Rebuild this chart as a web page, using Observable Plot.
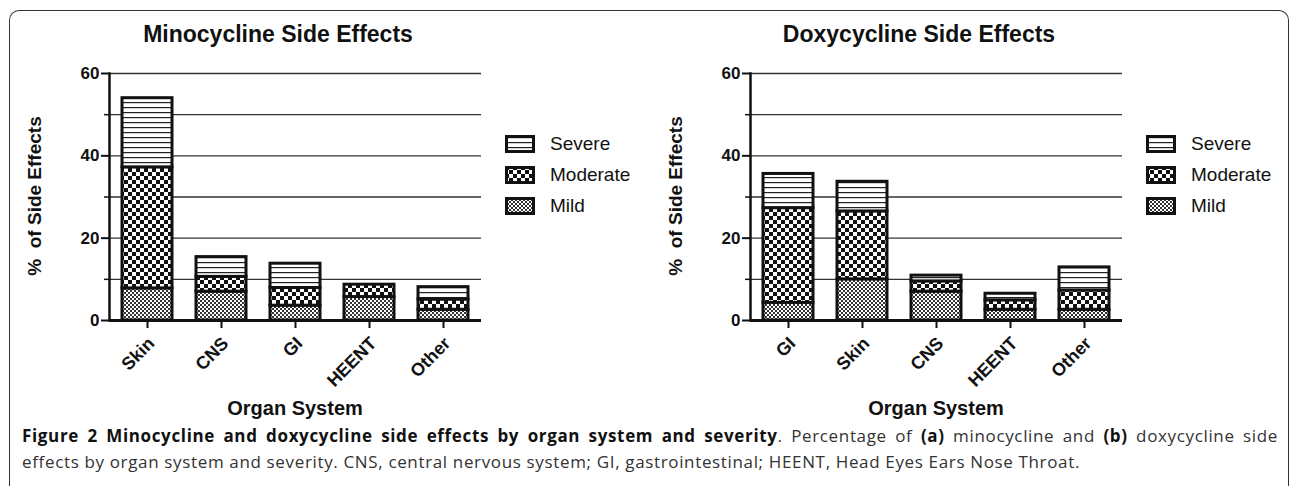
<!DOCTYPE html>
<html>
<head>
<meta charset="utf-8">
<script src="https://cdn.jsdelivr.net/npm/d3@7"></script>
<script src="https://cdn.jsdelivr.net/npm/@observablehq/plot@0.6"></script>
<style>
  html, body { margin: 0; padding: 0; background: #fff; }
  body { width: 1292px; height: 486px; position: relative; overflow: hidden; font-family: "Liberation Sans", Arial, sans-serif; color: #111; }
  .box { position: absolute; left: 9px; top: 10px; width: 1280px; height: 600px; border: 1.5px solid #333; border-bottom: none; border-radius: 10px 10px 0 0; box-sizing: border-box; }
  .panel { position: absolute; top: 0; width: 642px; height: 430px; }
  .panel svg.plot { position: absolute; left: 0; top: 0; }
  .title { position: absolute; top: 21px; font-weight: bold; font-size: 23px; white-space: nowrap; transform: translateX(-50%); }
  .ylab { position: absolute; font-weight: bold; font-size: 19px; white-space: pre; transform: translate(-50%, -50%) rotate(-90deg); }
  .xlab { position: absolute; top: 397px; font-weight: bold; font-size: 20px; white-space: nowrap; transform: translateX(-50%); }
  .legend { position: absolute; left: 505px; top: 128px; }
  .legend .row { display: flex; align-items: center; height: 31px; font-size: 19px; }
  .legend svg { margin-right: 15px; }
  .caption { position: absolute; left: 22px; top: 423px; width: 1256px; font-family: "Open Sans", "DejaVu Sans", sans-serif; font-size: 17px; line-height: 26px; color: #333; }
  .caption b { color: #111; }
  .caption .l1 { text-align: justify; text-align-last: justify; white-space: nowrap; }
  .caption .l2 { white-space: nowrap; display: inline-block; }
</style>
</head>
<body>
<svg width="0" height="0" style="position:absolute">
  <defs>
    <pattern id="pSev" width="6" height="5" patternUnits="userSpaceOnUse">
      <rect width="6" height="5" fill="#fff"/>
      <rect y="2" width="6" height="1.2" fill="#222"/>
    </pattern>
    <pattern id="pMod" width="8" height="8" patternUnits="userSpaceOnUse">
      <rect width="8" height="8" fill="#fff"/>
      <rect x="0" y="0" width="4" height="4" fill="#111"/>
      <rect x="4" y="4" width="4" height="4" fill="#111"/>
    </pattern>
    <pattern id="pMild" width="4" height="4" patternUnits="userSpaceOnUse">
      <rect width="4" height="4" fill="#fff"/>
      <rect x="0" y="0" width="2" height="2" fill="#333"/>
      <rect x="2" y="2" width="2" height="2" fill="#333"/>
    </pattern>
  </defs>
</svg>
<div class="box"></div>
<div id="p1" class="panel" style="left:0px"></div>
<div id="p2" class="panel" style="left:641px"></div>
<div class="caption" id="cap">
  <div class="l1"><b>Figure 2 Minocycline and doxycycline side effects by organ system and severity</b>. Percentage of <b>(a)</b> minocycline and <b>(b)</b> doxycycline side</div>
  <div><span class="l2" id="l2">effects by organ system and severity. CNS, central nervous system; GI, gastrointestinal; HEENT, Head Eyes Ears Nose Throat.</span></div>
</div>
<script>
// ---- data ----
const severities = ["Mild", "Moderate", "Severe"];
const legendOrder = ["Severe", "Moderate", "Mild"];
const patternFor = {Mild: "url(#pMild)", Moderate: "url(#pMod)", Severe: "url(#pSev)"};

const minoTitle = "Minocycline Side Effects";
const minoCats = ["Skin", "CNS", "GI", "HEENT", "Other"];
const minoMild = [7.8, 7.0, 3.6, 5.7, 2.6];
const minoModerate = [29.4, 3.6, 4.3, 3.0, 2.5];
const minoSevere = [16.8, 4.8, 5.9, 0, 3.0];

const doxyTitle = "Doxycycline Side Effects";
const doxyCats = ["GI", "Skin", "CNS", "HEENT", "Other"];
const doxyMild = [4.3, 10.0, 7.0, 2.6, 2.6];
const doxyModerate = [23.0, 16.5, 2.5, 2.3, 4.7];
const doxySevere = [8.3, 7.2, 1.4, 1.6, 5.6];

const yTicksMajor = [0, 20, 40, 60];
const yTicksMinor = [10, 30, 50];
const yGrid = [10, 20, 30, 40, 50, 60];
const yLabel = "%  of Side Effects";
const xLabel = "Organ System";

function buildRows(cats, mild, mod, sev) {
  const rows = [];
  cats.forEach((c, i) => {
    rows.push({cat: c, severity: "Mild", value: mild[i]});
    rows.push({cat: c, severity: "Moderate", value: mod[i]});
    rows.push({cat: c, severity: "Severe", value: sev[i]});
  });
  return rows;
}

function makePanel(el, title, cats, mild, mod, sev) {
  const data = buildRows(cats, mild, mod, sev);
  const chart = Plot.plot({
    width: 642,
    height: 430,
    marginLeft: 109,
    marginRight: 161,
    marginTop: 73,
    marginBottom: 110,
    style: {fontFamily: "Liberation Sans, Arial, sans-serif", color: "#111", background: "transparent", overflow: "visible"},
    x: {domain: cats, paddingInner: 0.33, paddingOuter: 0.17, label: null},
    y: {domain: [0, 60], label: null},
    color: {type: "ordinal", domain: severities, range: severities.map(s => patternFor[s])},
    marks: [
      Plot.gridY(yGrid, {stroke: "#333", strokeOpacity: 1, strokeWidth: 1.3}),
      Plot.barY(data, {x: "cat", y: "value", fill: "severity", stroke: "#111", strokeWidth: 3}),
      Plot.axisY({ticks: yTicksMajor, tickSize: 8, tickPadding: 2, fontSize: 17, fontWeight: "bold", strokeWidth: 2, label: null}),
      Plot.axisY({ticks: yTicksMinor, tickSize: 5, strokeWidth: 1.5, text: null, label: null}),
      Plot.frame({anchor: "left", stroke: "#111", strokeWidth: 2.5}),
      Plot.ruleY([0], {stroke: "#111", strokeWidth: 3}),
      Plot.axisX({tickSize: 8, strokeWidth: 2, text: null, label: null}),
      Plot.axisX({tickSize: 0, tickPadding: 20, dx: 4, tickRotate: -45, fontSize: 18, fontWeight: "bold", label: null})
    ]
  });
  chart.classList.add("plot");
  el.appendChild(chart);

  const t = document.createElement("div");
  t.className = "title"; t.style.left = "278px"; t.textContent = title;
  el.appendChild(t);

  const yl = document.createElement("div");
  yl.className = "ylab"; yl.style.left = "35px"; yl.style.top = "196px"; yl.textContent = yLabel;
  el.appendChild(yl);

  const xl = document.createElement("div");
  xl.className = "xlab"; xl.style.left = "295px"; xl.textContent = xLabel;
  el.appendChild(xl);

  const lg = document.createElement("div");
  lg.className = "legend";
  legendOrder.forEach(s => {
    const row = document.createElement("div");
    row.className = "row";
    row.innerHTML = `<svg width="30" height="18"><rect x="1.5" y="1.5" width="27" height="15" fill="${patternFor[s]}" stroke="#111" stroke-width="3"/></svg><span>${s}</span>`;
    lg.appendChild(row);
  });
  el.appendChild(lg);
}

makePanel(document.getElementById("p1"), minoTitle, minoCats, minoMild, minoModerate, minoSevere);
makePanel(document.getElementById("p2"), doxyTitle, doxyCats, doxyMild, doxyModerate, doxySevere);

// widen caption letter spacing so the second line spans like the reference (22px → 1080px)
const cap = document.getElementById("cap");
const l2 = document.getElementById("l2");
const targetW = 1058;
const w = l2.getBoundingClientRect().width;
const n = l2.textContent.length;
if (w > 0 && w < targetW) cap.style.letterSpacing = Math.min(1, (targetW - w) / n).toFixed(3) + "px";
</script>
</body>
</html>
